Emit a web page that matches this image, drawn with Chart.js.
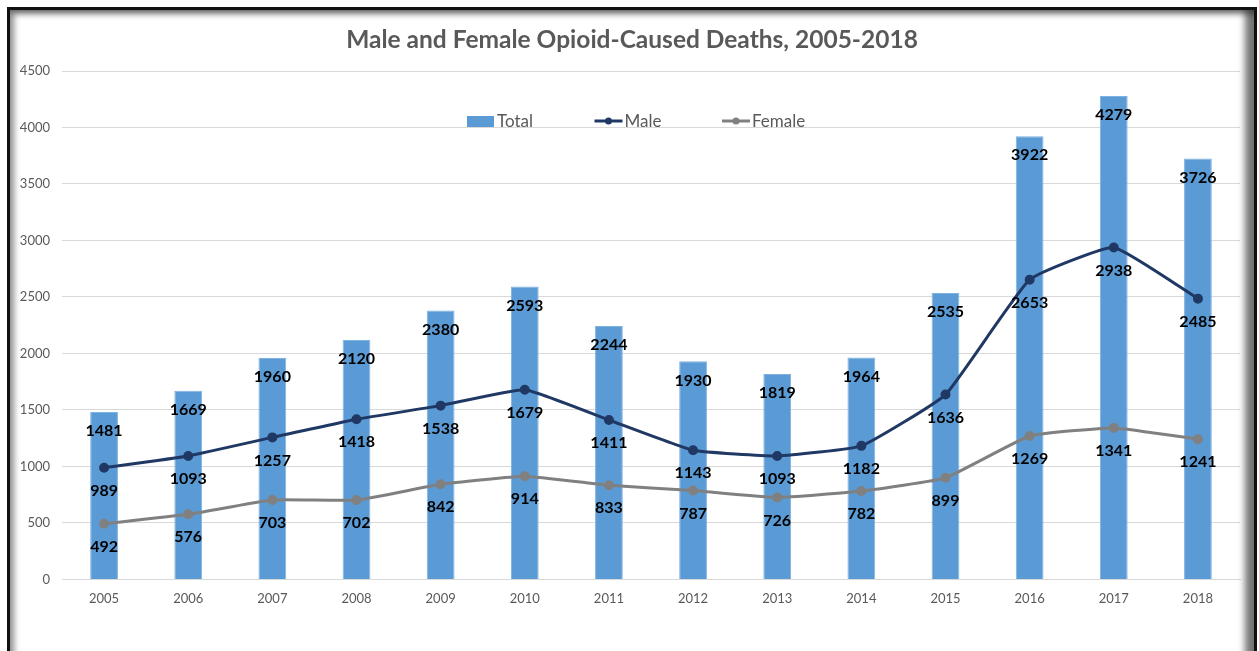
<!DOCTYPE html>
<html>
<head>
<meta charset="utf-8">
<title>Male and Female Opioid-Caused Deaths</title>
<script src="https://cdn.jsdelivr.net/npm/chart.js@4.4.1/dist/chart.umd.min.js"></script>
<style>
  html, body { margin: 0; padding: 0; background: #fff; overflow: hidden; }
  #wrap { position: relative; width: 1259px; height: 651px; }
  #frame {
    position: absolute; left: 7px; top: 7px; width: 1244px; height: 700px;
    border: 3px solid #111;
    box-shadow: inset 4px 4px 6px rgba(0,0,0,0.45), inset -9px 0 7px rgba(0,0,0,0.55);
    pointer-events: none; z-index: 2;
  }
  canvas { position: absolute; left: 0; top: 0; }
</style>
</head>
<body>
<div id="wrap">
  <canvas id="opioidChart" width="1259" height="651"></canvas>
  <div id="frame"></div>
</div>
<script>
// datos del grafico
const chartTitle = "Male and Female Opioid-Caused Deaths, 2005-2018";
const years = ["2005", "2006", "2007", "2008", "2009", "2010", "2011", "2012", "2013", "2014", "2015", "2016", "2017", "2018"];
const totalDeaths = [1481, 1669, 1960, 2120, 2380, 2593, 2244, 1930, 1819, 1964, 2535, 3922, 4279, 3726];
const maleDeaths = [989, 1093, 1257, 1418, 1538, 1679, 1411, 1143, 1093, 1182, 1636, 2653, 2938, 2485];
const femaleDeaths = [492, 576, 703, 702, 842, 914, 833, 787, 726, 782, 899, 1269, 1341, 1241];
const yTicks = [0, 500, 1000, 1500, 2000, 2500, 3000, 3500, 4000, 4500];

const FONT = "Lato, 'Open Sans', sans-serif";
const GRAY_TEXT = "#595959";

// titulo (un poco desplazado a la derecha como en el original)
const chartHeading = {
  id: "chartHeading",
  afterDraw(chart) {
    const ctx = chart.ctx;
    ctx.save();
    ctx.font = "bold 24.5px " + FONT;
    ctx.fillStyle = GRAY_TEXT;
    ctx.textAlign = "center";
    ctx.textBaseline = "middle";
    ctx.fillText(chartTitle, 632, 40);
    ctx.restore();
  }
};

// etiquetas de valores sobre cada punto / barra
const valueLabels = {
  id: "valueLabels",
  afterDatasetsDraw(chart) {
    const ctx = chart.ctx;
    ctx.save();
    ctx.font = "bold 16px " + FONT;
    ctx.fillStyle = "#000";
    ctx.textAlign = "center";
    ctx.textBaseline = "middle";
    chart.data.datasets.forEach((ds, i) => {
      const meta = chart.getDatasetMeta(i);
      const offset = ds.type === "bar" ? 19 : 23;
      meta.data.forEach((el, j) => {
        ctx.fillText(String(ds.data[j]), el.x, el.y + offset);
      });
    });
    ctx.restore();
  }
};

// leyenda dibujada dentro del area del grafico
const innerLegend = {
  id: "innerLegend",
  afterDraw(chart) {
    const ctx = chart.ctx;
    const y = 121;
    let x = 467;
    ctx.save();
    ctx.font = "17px " + FONT;
    ctx.textBaseline = "middle";
    ctx.textAlign = "left";
    chart.data.datasets.forEach(ds => {
      if (ds.type === "bar") {
        ctx.fillStyle = ds.backgroundColor;
        ctx.fillRect(x, y - 5, 27, 11);
      } else {
        ctx.strokeStyle = ds.borderColor;
        ctx.lineWidth = 3;
        ctx.beginPath();
        ctx.moveTo(x, y);
        ctx.lineTo(x + 28, y);
        ctx.stroke();
        ctx.fillStyle = ds.borderColor;
        ctx.beginPath();
        ctx.arc(x + 14, y, 3.5, 0, Math.PI * 2);
        ctx.fill();
      }
      ctx.fillStyle = GRAY_TEXT;
      ctx.fillText(ds.label, x + 30, y + 1);
      x += 127.5;
    });
    ctx.restore();
  }
};

const ctx = document.getElementById("opioidChart").getContext("2d");
new Chart(ctx, {
  data: {
    labels: years,
    datasets: [
      {
        type: "bar",
        label: "Total",
        data: totalDeaths,
        backgroundColor: "#5B9BD5",
        borderColor: "#7FB2E0",
        borderWidth: 1,
        categoryPercentage: 1,
        barPercentage: 0.33,
        order: 3
      },
      {
        type: "line",
        label: "Male",
        data: maleDeaths,
        borderColor: "#203864",
        backgroundColor: "#203864",
        borderWidth: 3,
        pointRadius: 3.5,
        pointHoverRadius: 3.5,
        tension: 0.12,
        order: 1
      },
      {
        type: "line",
        label: "Female",
        data: femaleDeaths,
        borderColor: "#808080",
        backgroundColor: "#808080",
        borderWidth: 3,
        pointRadius: 3.5,
        pointHoverRadius: 3.5,
        tension: 0.12,
        order: 2
      }
    ]
  },
  options: {
    responsive: false,
    animation: false,
    layout: { padding: { top: 71, right: 19, bottom: 40, left: 0 } },
    plugins: {
      legend: { display: false },
      tooltip: { enabled: false },
      title: { display: false }
    },
    scales: {
      x: {
        grid: { display: false },
        border: { color: "#d9d9d9" },
        ticks: { color: GRAY_TEXT, font: { family: FONT, size: 13 }, padding: 4, maxRotation: 0 }
      },
      y: {
        min: 0,
        max: 4500,
        afterBuildTicks: scale => { scale.ticks = yTicks.map(v => ({ value: v })); },
        afterFit: scale => { scale.width = 62; },
        grid: { color: "#d9d9d9", drawTicks: false },
        border: { display: false },
        ticks: {
          color: GRAY_TEXT,
          font: { family: FONT, size: 13 },
          padding: 12,
          callback: value => String(value)
        }
      }
    }
  },
  plugins: [valueLabels, innerLegend, chartHeading]
});
</script>
</body>
</html>
